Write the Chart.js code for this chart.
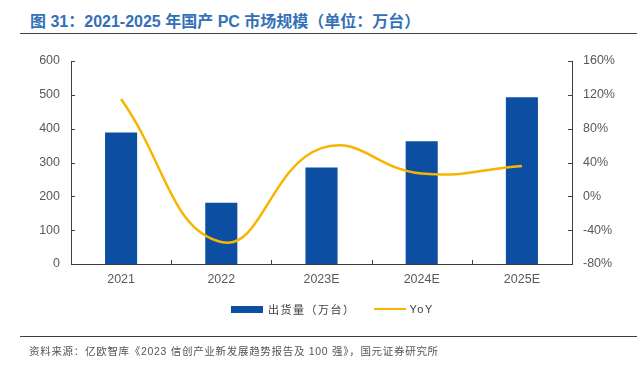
<!DOCTYPE html>
<html>
<head>
<meta charset="utf-8">
<script src="https://cdn.jsdelivr.net/npm/chart.js@4"></script>
<style>
  html, body { margin: 0; padding: 0; background: #fff; }
  body { width: 643px; height: 366px; position: relative; overflow: hidden;
         font-family: "Liberation Sans", "Noto Sans CJK SC", sans-serif; }
  #title { position: absolute; left: 30px; top: 8px; font-size: 16px; font-weight: bold;
           color: #3470b8; white-space: nowrap; }
  .rule { position: absolute; left: 20px; width: 617px; height: 0; border-top: 1px solid #404040; }
  #source { position: absolute; left: 29px; top: 343px; font-size: 10.5px; color: #555;
            white-space: nowrap; letter-spacing: 0.7px; }
  #wrap { position: absolute; left: 0; top: 0; width: 643px; height: 366px; }
  #legend { position: absolute; top: 301px; left: 231px; font-size: 11px; color: #404040;
            white-space: nowrap; letter-spacing: 1.5px; }
  #legend span { display: inline-block; vertical-align: middle; }
  .box { width: 32px; height: 7px; background: #0b4ea2; margin-right: 5px; }
  .ln { width: 32px; height: 0; border-top: 2.5px solid #f7b500; margin: 0 4px 0 18px; }
</style>
</head>
<body>
<div id="title">图 31：2021-2025 年国产 PC 市场规模（单位：万台）</div>
<div class="rule" style="top:33px"></div>
<div id="wrap"><canvas id="chart" width="643" height="366"></canvas></div>
<div id="legend">
  <span class="box"></span><span>出货量（万台）</span><span class="ln"></span><span>YoY</span>
</div>
<div class="rule" style="top:336px"></div>
<div id="source">资料来源：亿欧智库《2023 信创产业新发展趋势报告及 100 强》，国元证券研究所</div>

<script>
const years = ['2021', '2022', '2023E', '2024E', '2025E'];
const shipments = [389, 181, 285, 363, 493];   // 万台
const yoy = [115, -54, 57, 27, 36];            // %
const leftTicks = [0, 100, 200, 300, 400, 500, 600];
const rightTicks = [-80, -40, 0, 40, 80, 120, 160];

// small inward tick marks like the original
const innerTicks = {
    id: 'innerTicks',
    afterDraw(chart) {
        const { ctx, chartArea: a, scales } = chart;
        ctx.save();
        ctx.strokeStyle = '#404040';
        ctx.lineWidth = 1;
        ctx.beginPath();
        scales.y.ticks.forEach((t, i) => {
            const y = Math.round(scales.y.getPixelForTick(i)) + 0.5;
            ctx.moveTo(a.left, y); ctx.lineTo(a.left + 4, y);
        });
        scales.y1.ticks.forEach((t, i) => {
            const y = Math.round(scales.y1.getPixelForTick(i)) + 0.5;
            ctx.moveTo(a.right - 4, y); ctx.lineTo(a.right, y);
        });
        const n = years.length;
        for (let i = 1; i < n; i++) {
            const x = Math.round((scales.x.getPixelForValue(i - 1) + scales.x.getPixelForValue(i)) / 2) + 0.5;
            ctx.moveTo(x, a.bottom); ctx.lineTo(x, a.bottom - 4);
        }
        ctx.stroke();
        ctx.restore();
    }
};

const tickFont = { family: '"Liberation Sans", Arial, sans-serif', size: 12.5 };

new Chart(document.getElementById('chart'), {
    data: {
        labels: years,
        datasets: [
            {
                type: 'line',
                label: 'YoY',
                data: yoy,
                yAxisID: 'y1',
                borderColor: '#f7b500',
                borderWidth: 2.5,
                pointRadius: 0,
                tension: 0.45,
                fill: false,
                order: 0
            },
            {
                type: 'bar',
                label: '出货量（万台）',
                data: shipments,
                yAxisID: 'y',
                backgroundColor: '#0b4ea2',
                barPercentage: 0.32,
                categoryPercentage: 1,
                order: 1
            }
        ]
    },
    options: {
        responsive: false,
        animation: false,
        layout: { padding: { top: 61, bottom: 72, left: 0, right: 0 } },
        plugins: { legend: { display: false }, tooltip: { enabled: false } },
        scales: {
            x: {
                grid: { display: false, drawTicks: false },
                border: { display: true, color: '#404040', width: 1 },
                ticks: { color: '#595959', font: tickFont, padding: 8 },
                afterFit: s => { s.height = 30; }
            },
            y: {
                position: 'left',
                min: 0, max: 600,
                afterBuildTicks: s => { s.ticks = leftTicks.map(v => ({ value: v })); },
                grid: { display: false, drawTicks: false },
                border: { display: true, color: '#404040', width: 1 },
                ticks: { color: '#595959', font: tickFont, padding: 11 },
                afterFit: s => { s.width = 71; }
            },
            y1: {
                position: 'right',
                min: -80, max: 160,
                afterBuildTicks: s => { s.ticks = rightTicks.map(v => ({ value: v })); },
                grid: { display: false, drawTicks: false },
                border: { display: true, color: '#404040', width: 1 },
                ticks: { color: '#595959', font: tickFont, padding: 11, callback: v => v + '%' },
                afterFit: s => { s.width = 71; }
            }
        }
    },
    plugins: [innerTicks]
});
</script>
</body>
</html>
